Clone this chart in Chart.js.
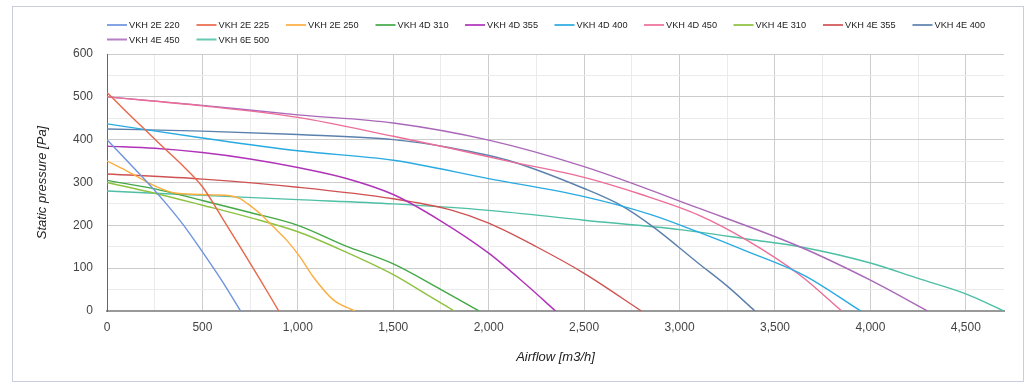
<!DOCTYPE html>
<html><head><meta charset="utf-8">
<script src="https://cdn.jsdelivr.net/npm/chart.js@4.4.1/dist/chart.umd.min.js"></script>
<style>html,body{margin:0;padding:0;background:#fff}#wrap{width:1036px;height:388px;position:relative}</style>
</head><body><div id="wrap"><canvas id="c" width="1036" height="388"></canvas></div>
<script>
// ---- data ----
const seriesNames = ['VKH 2E 220','VKH 2E 225','VKH 2E 250','VKH 4D 310','VKH 4D 355','VKH 4D 400','VKH 4D 450','VKH 4E 310','VKH 4E 355','VKH 4E 400','VKH 4E 450','VKH 6E 500'];
const seriesColors = ['#6e93e0','#e8674a','#fbae3f','#43a845','#b032b9','#29aae1','#ec6e98','#8dc13f','#cf5252','#5b80ad','#aa68b9','#4dbfa5'];

const flow2E220 = [0,100,200,300,400,500,600,700];
const pres2E220 = [400,353,306,256,201,138,72,0];
const flow2E225 = [0,100,200,300,400,500,600,700,800,900];
const pres2E225 = [510,466,423,380,338,290,220,148,75,0];
const flow2E250 = [0,100,190,250,347,487,560,644,700,732,800,870,940,1010,1080,1186,1300];
const pres2E250 = [350,328,306,292,276,272,271,269,262,252,228,197,166,127,80,26,0];
const flow4D310 = [0,250,500,750,1000,1250,1500,1750,1950];
const pres4D310 = [305,285,258,230,200,152,110,50,0];
const flow4D355 = [0,250,500,750,1000,1250,1500,1750,2000,2200,2350];
const pres4D355 = [385,380,370,355,335,310,272,210,135,60,0];
const flow4D400 = [0,500,1000,1500,2000,2500,2850,3100,3350,3650,3950];
const pres4D400 = [437,404,374,352,309,267,225,184,140,84,0];
const flow4D450 = [0,500,1000,1500,1800,2100,2500,2800,3100,3350,3630,3850];
const pres4D450 = [500,479,452,408,380,350,312,272,224,166,84,0];
const flow4E310 = [0,250,500,750,1000,1250,1500,1700,1820];
const pres4E310 = [300,275,247,218,185,138,85,32,0];
const flow4E355 = [0,500,1000,1500,1800,2000,2250,2500,2800];
const pres4E355 = [320,308,289,262,236,205,150,88,0];
const flow4E400 = [0,500,1000,1500,1800,2100,2500,2700,2860,3100,3250,3395];
const pres4E400 = [425,420,412,400,381,352,286,245,197,111,58,0];
const flow4E450 = [0,500,1000,1500,2000,2500,3100,3630,4000,4300];
const pres4E450 = [500,480,458,439,399,337,240,150,72,0];
const flow6E500 = [0,500,1000,1500,2000,2500,3000,3370,3630,4000,4250,4500,4700];
const pres6E500 = [280,270,260,250,235,212,190,167,150,112,76,40,0];

const xTickValues = [0,500,1000,1500,2000,2500,3000,3500,4000,4500];
const xTickLabels = ['0','500','1,000','1,500','2,000','2,500','3,000','3,500','4,000','4,500'];
const xMinorValues = [250,750,1250,1750,2250,2750,3250,3750,4250];
const yTickValues = [0,100,200,300,400,500,600];
const yTickLabels = ['0','100','200','300','400','500','600'];
const yMinorValues = [50,150,250,350,450,550];

const flows = [flow2E220,flow2E225,flow2E250,flow4D310,flow4D355,flow4D400,flow4D450,flow4E310,flow4E355,flow4E400,flow4E450,flow6E500];
const pressures = [pres2E220,pres2E225,pres2E250,pres4D310,pres4D355,pres4D400,pres4D450,pres4E310,pres4E355,pres4E400,pres4E450,pres6E500];

// ---- chart ----
Chart.defaults.font.family = "'Liberation Sans', Arial, sans-serif";

const datasets = seriesNames.map((name, i) => ({
  label: name,
  data: flows[i].map((x, j) => ({x: x, y: pressures[i][j]})),
  borderColor: seriesColors[i],
  backgroundColor: seriesColors[i],
  borderWidth: 1.4,
  pointRadius: 0,
  pointHoverRadius: 0,
  fill: false,
  cubicInterpolationMode: 'monotone'
}));

const framePlugin = {
  id: 'frame',
  beforeDraw(chart) {
    const ctx = chart.ctx;
    ctx.save();
    ctx.fillStyle = '#fff';
    ctx.fillRect(0, 0, chart.width, chart.height);
    ctx.strokeStyle = '#c8cde0';
    ctx.lineWidth = 1;
    ctx.strokeRect(12.5, 6.5, chart.width - 25, chart.height - 13);
    ctx.restore();
  }
};

const legendPlugin = {
  id: 'gLegend',
  afterDraw(chart) {
    const ctx = chart.ctx;
    const left = chart.chartArea.left;
    const step = 89.5, perRow = 10, row0 = 25, rowH = 14.5;
    ctx.save();
    ctx.font = "9.2px 'Liberation Sans', Arial, sans-serif";
    ctx.textBaseline = 'middle';
    ctx.textAlign = 'left';
    chart.data.datasets.forEach((ds, i) => {
      const col = i % perRow, row = Math.floor(i / perRow);
      const x = left + col * step;
      const y = row0 + row * rowH;
      ctx.fillStyle = ds.borderColor;
      ctx.globalAlpha = 0.85;
      ctx.fillRect(x, y - 1, 20, 2);
      ctx.globalAlpha = 1;
      ctx.fillStyle = '#222';
      ctx.fillText(ds.label, x + 22, y + 0.5);
    });
    ctx.restore();
  }
};

function gridColor(ctx, minorList) {
  const v = ctx.tick ? ctx.tick.value : 0;
  return minorList.includes(v) ? '#ebebeb' : '#cccccc';
}

new Chart(document.getElementById('c'), {
  type: 'line',
  data: { datasets },
  options: {
    responsive: false,
    animation: false,
    devicePixelRatio: 1,
    layout: { padding: { top: 54, right: 32, bottom: 0, left: 0 } },
    plugins: { legend: { display: false }, tooltip: { enabled: false } },
    events: [],
    scales: {
      x: {
        type: 'linear', min: 0, max: 4700,
        afterBuildTicks: s => { s.ticks = [...xTickValues, ...xMinorValues].sort((a,b)=>a-b).map(v => ({value: v})); },
        afterFit: s => { s.height = 77; },
        ticks: {
          autoSkip: false, maxRotation: 0, padding: 9, color: '#444',
          font: { size: 12 },
          callback: v => { const i = xTickValues.indexOf(v); return i >= 0 ? xTickLabels[i] : ''; }
        },
        grid: { drawTicks: false, lineWidth: 1, color: c => gridColor(c, xMinorValues) },
        border: { color: '#999', width: 2 },
        title: { display: true, text: 'Airflow [m3/h]', color: '#222', font: { size: 13, style: 'italic' }, padding: { top: 0, bottom: 23 } }
      },
      y: {
        type: 'linear', min: 0, max: 600,
        afterBuildTicks: s => { s.ticks = [...yTickValues, ...yMinorValues].sort((a,b)=>a-b).map(v => ({value: v})); },
        afterFit: s => { s.width = 107; },
        ticks: {
          autoSkip: false, padding: 14, color: '#444',
          font: { size: 12 },
          callback: v => { const i = yTickValues.indexOf(v); return i >= 0 ? yTickLabels[i] : ''; }
        },
        grid: { drawTicks: false, lineWidth: 1, color: c => gridColor(c, yMinorValues) },
        border: { color: '#666', width: 1 },
        title: { display: true, text: 'Static pressure [Pa]', color: '#222', font: { size: 13, style: 'italic' }, padding: { top: 35, bottom: 0 } }
      }
    }
  },
  plugins: [framePlugin, legendPlugin]
});
</script></body></html>
